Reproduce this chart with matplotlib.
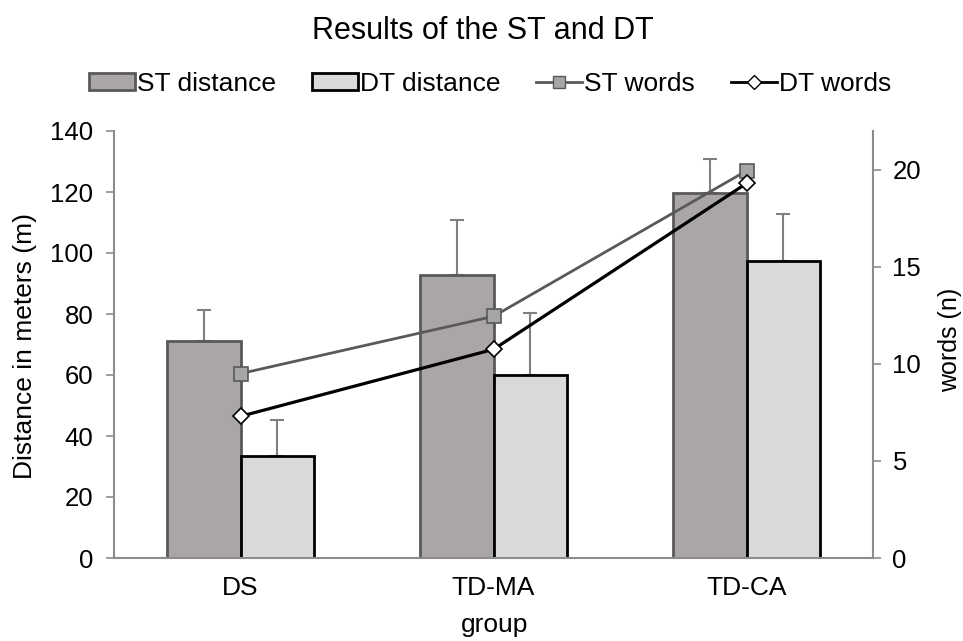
import matplotlib
matplotlib.use("Agg")
import matplotlib.pyplot as plt
import numpy as np
from matplotlib.patches import Patch
from matplotlib.lines import Line2D

plt.rcParams['font.family'] = ['Liberation Sans', 'DejaVu Sans']

groups = ["DS", "TD-MA", "TD-CA"]
st_distance = [71.1, 92.7, 119.8]
st_distance_err = [10.2, 18.0, 11.0]
dt_distance = [33.3, 60.1, 97.4]
dt_distance_err = [11.8, 20.3, 15.5]
st_words = [9.5, 12.45, 19.95]
dt_words = [7.3, 10.75, 19.3]

W, H = 963, 641
fig = plt.figure(figsize=(W/100, H/100), dpi=100)
ax = fig.add_axes([114/W, 1-558/H, (873-114)/W, (558-131)/H])
x = np.arange(len(groups))
w = 0.29
axis_grey = '#8c8c8c'

ax.bar(x - w/2, st_distance, w, color='#aaa6a6', edgecolor='#595959', linewidth=2, zorder=2)
ax.bar(x + w/2, dt_distance, w, color='#d9d9d9', edgecolor='#000000', linewidth=2, zorder=2)
ax.errorbar(x - w/2, st_distance, yerr=[np.zeros(3), st_distance_err], fmt='none',
            ecolor='#808080', elinewidth=1.5, capsize=5, capthick=1.5, zorder=1)
ax.errorbar(x + w/2, dt_distance, yerr=[np.zeros(3), dt_distance_err], fmt='none',
            ecolor='#808080', elinewidth=1.5, capsize=5, capthick=1.5, zorder=1)

ax.set_xlim(-0.5, 2.5)
ax.set_ylim(0, 140)
ax.set_yticks(np.arange(0, 141, 20))
ax.set_xticks(x)
ax.set_xticklabels(groups, fontsize=19)
ax.tick_params(axis='y', labelsize=18.5, length=6, width=1.2, color=axis_grey, direction='out', pad=9)
ax.tick_params(axis='x', length=0, pad=13)
for s in ['top', 'right']:
    ax.spines[s].set_visible(False)
for s in ['left', 'bottom']:
    ax.spines[s].set_color(axis_grey)
    ax.spines[s].set_linewidth(1.5)

ax2 = ax.twinx()
ax2.plot(x, st_words, color='#595959', linewidth=2, marker='s', markersize=9.5,
         markerfacecolor='#a6a6a6', markeredgecolor='#595959', markeredgewidth=1.2, zorder=3)
ax2.plot(x, dt_words, color='#000000', linewidth=2.3, marker='D', markersize=8.5,
         markerfacecolor='#ffffff', markeredgecolor='#000000', markeredgewidth=1.2, zorder=3)
ax2.set_ylim(0, 22)
ax2.set_yticks(np.arange(0, 21, 5))
ax2.tick_params(axis='y', labelsize=18.5, length=6, width=1.2, color=axis_grey, direction='out', pad=8)
for s in ['top', 'left', 'bottom']:
    ax2.spines[s].set_visible(False)
ax2.spines['right'].set_color(axis_grey)
ax2.spines['right'].set_linewidth(1.5)

fig.text(25/W, 1-346/H, "Distance in meters (m)", rotation=90, ha='center', va='center', fontsize=19)
fig.text(950/W, 1-340/H, "words (n)", rotation=90, ha='center', va='center', fontsize=18)
fig.text(495/W, 1-625/H, "group", ha='center', va='center', fontsize=19)

fig.text(483/W, 1-39/H, "Results of the ST and DT", ha='center', va='baseline', fontsize=22)

handles = [
    Patch(facecolor='#aaa6a6', edgecolor='#595959', linewidth=2),
    Patch(facecolor='#d9d9d9', edgecolor='#000000', linewidth=2),
    Line2D([], [], color='#595959', linewidth=2, marker='s', markersize=9,
           markerfacecolor='#a6a6a6', markeredgecolor='#595959'),
    Line2D([], [], color='#000000', linewidth=2, marker='D', markersize=7.5,
           markerfacecolor='#ffffff', markeredgecolor='#000000'),
]
labels = ["ST distance", "DT distance", "ST words", "DT words"]
fig.legend(handles, labels, loc='center', bbox_to_anchor=(490/W, 1-84/H), ncol=4,
           frameon=False, fontsize=19, handlelength=1.75, handletextpad=0.08,
           columnspacing=1.35, handleheight=0.6, borderpad=0, borderaxespad=0)

fig.savefig("out.png", dpi=100)
